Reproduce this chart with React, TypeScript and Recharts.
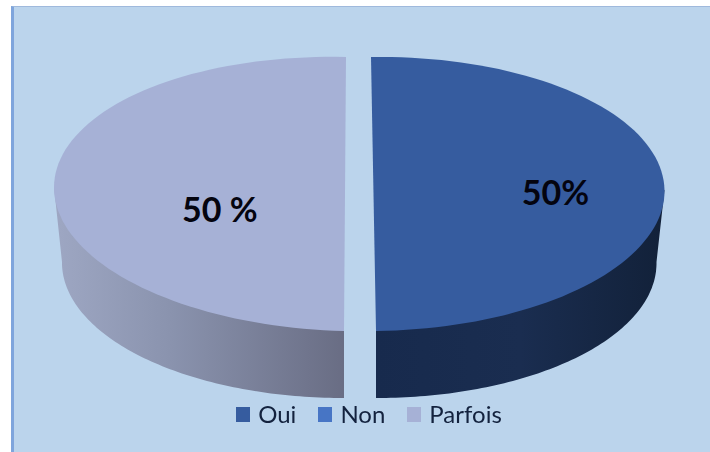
import { PieChart, Pie, Legend } from 'recharts';

const categories = ['Oui', 'Non', 'Parfois'];
const shares = [50, 0, 50];
const sliceLabels = ['50%', '', '50 %'];
const faceColors = ['#365c9f', '#4775c5', '#a6b1d6'];
const wallFills = ['url(#wallRight)', 'none', 'url(#wallLeft)'];

const chartData = categories.map((name, i) => ({ name, value: shares[i], fill: faceColors[i] }));

const WIDTH = 710;
const HEIGHT = 452;
// recharts adds its 5px default margin to cx and cy
const CX = 354;
const CY = 189;
const RX = 291;
const RY = 137;

// 3d look, the slices are pulled apart sideways and tilted a little
const sliceShiftX = [14.5, 0, -14];
const sliceShearX = [-2.5, 0, 1];
const sliceShearY = [-4, 0, 7];
const WALL_DROP = 68;
const WALL_RX = 283;
const WALL_RY = 136;

const rad = (deg: number) => (deg * Math.PI) / 180;

function arcPoints(
  cx: number,
  cy: number,
  rx: number,
  ry: number,
  from: number,
  to: number,
  shearX: number,
  shearY: number,
) {
  const pts: string[] = [];
  const steps = 90;
  for (let i = 0; i <= steps; i++) {
    const a = rad(from + ((to - from) * i) / steps);
    const x = cx + rx * Math.cos(a) + shearX * Math.sin(a);
    const y = cy - ry * Math.sin(a) + shearY * Math.cos(a);
    pts.push(`${x.toFixed(1)},${y.toFixed(1)}`);
  }
  return pts;
}

// Pie gives the angles, the radius is squashed here into an ellipse
function EllipseSlice(props: any) {
  const { cx, cy, outerRadius, startAngle, endAngle, fill, index } = props;
  if (startAngle === endAngle) return null;
  const centerX = cx + sliceShiftX[index];
  const ry = outerRadius * (RY / RX);
  const face = arcPoints(centerX, cy, outerRadius, ry, startAngle, endAngle, sliceShearX[index], sliceShearY[index]);

  // wall: only the front half of the lower ellipse shows
  const wallFrom = index === 0 ? 0 : -90;
  const wallTo = index === 0 ? -90 : -180;
  const lower = arcPoints(centerX, cy + WALL_DROP, WALL_RX, WALL_RY, wallFrom, wallTo, sliceShearX[index], 0);
  const rimTop = arcPoints(centerX, cy, outerRadius, ry, wallFrom, wallFrom, sliceShearX[index], sliceShearY[index])[0];
  const rimSide = arcPoints(centerX, cy, outerRadius, ry, wallTo, wallTo, sliceShearX[index], sliceShearY[index])[0];
  const wall = [rimTop, ...lower, rimSide];

  return (
    <g>
      <polygon points={wall.join(' ')} fill={wallFills[index]} />
      <polygon points={face.join(' ')} fill={fill} />
    </g>
  );
}

const labelReach = [0.625, 0, 0.43];
const labelDrop = [-3, 0, 14];

function SliceLabel(props: any) {
  const { cx, cy, outerRadius, midAngle, index } = props;
  if (!sliceLabels[index]) return null;
  const x = cx + sliceShiftX[index] + outerRadius * labelReach[index] * Math.cos(rad(midAngle));
  const y = cy + labelDrop[index];
  return (
    <text
      x={x}
      y={y}
      textAnchor="middle"
      dominantBaseline="central"
      fontFamily="Lato"
      fontWeight={700}
      fontSize={34}
      fill="#04040f"
    >
      {sliceLabels[index]}
    </text>
  );
}

function LegendRow() {
  return (
    <div style={{ display: 'flex', justifyContent: 'center', alignItems: 'center', height: 24 }}>
      {categories.map((name, i) => (
        <div key={name} style={{ display: 'flex', alignItems: 'center', marginRight: i < 2 ? 22 : 0 }}>
          <span style={{ width: 14, height: 15, background: faceColors[i], marginRight: 8 }} />
          <span style={{ fontFamily: 'Lato', fontSize: 24, color: '#13223e', lineHeight: '24px' }}>{name}</span>
        </div>
      ))}
    </div>
  );
}

export default function App() {
  return (
    <div style={{ position: 'fixed', left: 0, top: 0, width: WIDTH, height: HEIGHT, background: '#fff' }}>
      <div
        style={{
          position: 'absolute',
          left: 11,
          top: 6,
          right: 0,
          bottom: 0,
          background: '#bbd4ec',
          borderLeft: '3px solid #7fa5dc',
          borderTop: '1px solid #9fb9dc',
        }}
      />
      <PieChart width={WIDTH} height={HEIGHT} style={{ position: 'absolute', left: 0, top: 0 }}>
        <defs>
          <linearGradient id="wallLeft" gradientUnits="userSpaceOnUse" x1="54" y1="0" x2="344" y2="0">
            <stop offset="0" stopColor="#9ea7c3" />
            <stop offset="0.4" stopColor="#8a93ae" />
            <stop offset="1" stopColor="#696d84" />
          </linearGradient>
          <linearGradient id="wallRight" gradientUnits="userSpaceOnUse" x1="376" y1="0" x2="665" y2="0">
            <stop offset="0" stopColor="#172a4d" />
            <stop offset="0.5" stopColor="#1a2d50" />
            <stop offset="1" stopColor="#122139" />
          </linearGradient>
        </defs>
        <Pie
          data={chartData}
          dataKey="value"
          nameKey="name"
          cx={CX}
          cy={CY}
          outerRadius={RX}
          startAngle={90}
          endAngle={-270}
          stroke="none"
          shape={EllipseSlice}
          label={SliceLabel}
          labelLine={false}
          isAnimationActive={false}
        />
        <Legend
          content={LegendRow}
          layout="horizontal"
          verticalAlign="bottom"
          wrapperStyle={{ left: 14, width: WIDTH, bottom: 26 }}
        />
      </PieChart>
    </div>
  );
}
